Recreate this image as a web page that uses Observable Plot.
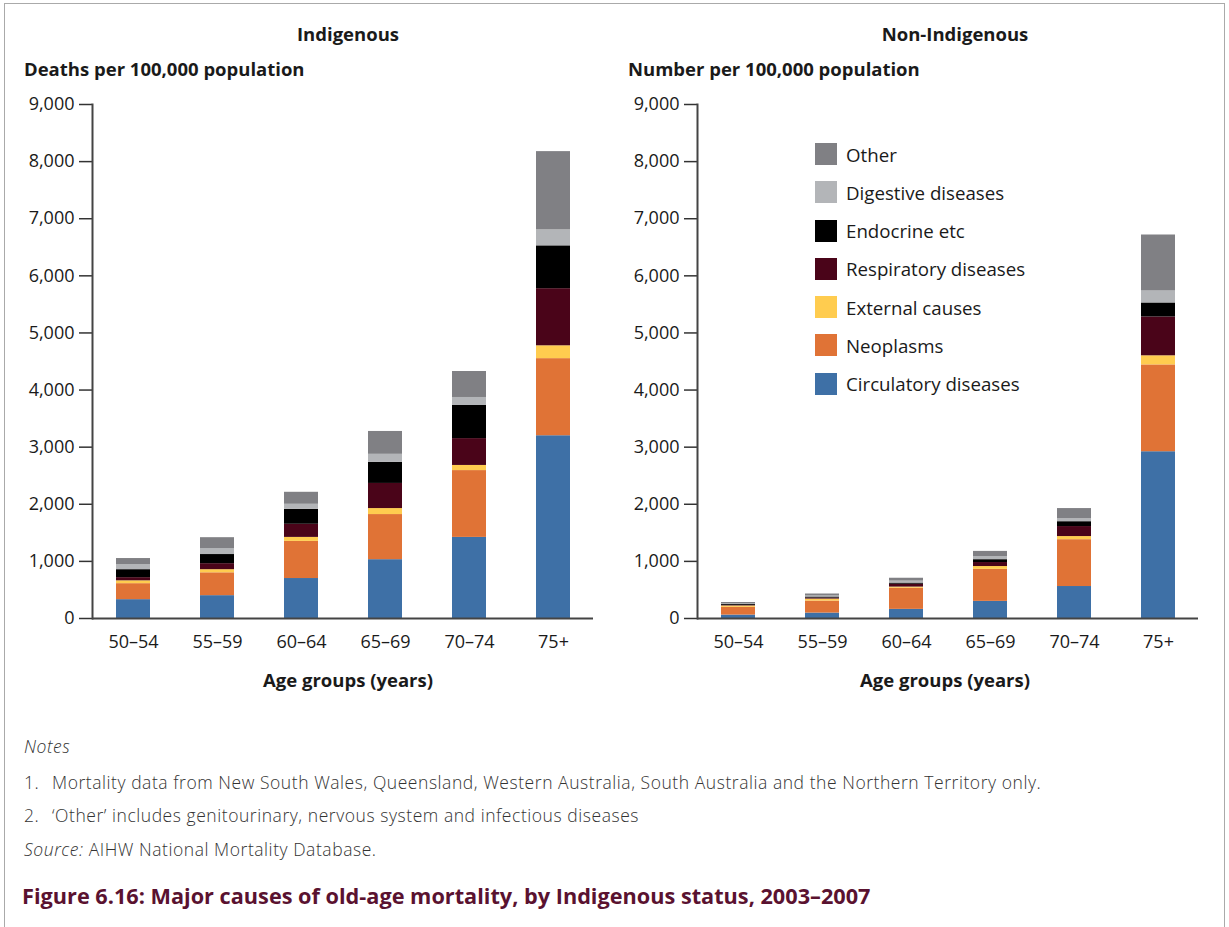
<!DOCTYPE html>
<html><head><meta charset="utf-8">
<script src="https://cdn.jsdelivr.net/npm/d3@7"></script>
<script src="https://cdn.jsdelivr.net/npm/@observablehq/plot@0.6"></script>
<style>
body{margin:0;background:#fff;font-family:"Open Sans",sans-serif;color:#1a1a1a}
#fig{position:relative;width:1229px;height:927px;overflow:hidden;background:#fff}
#frame{position:absolute;left:4px;top:3px;width:1221px;height:960px;border:1px solid #aaa;box-sizing:border-box}
.abs{position:absolute;white-space:nowrap;line-height:1}
.b{font-weight:700;font-size:18.5px}
.c{transform:translateX(-50%)}
.note{font-size:17.5px;letter-spacing:0.55px;color:#333;font-weight:300}
.chart{position:absolute;top:90px}
#legend{position:absolute;left:815px;top:143px}
.li{display:flex;align-items:center;height:22px;margin-bottom:16.3px;font-size:18.7px}
.sw{width:22px;height:22px;margin-right:9px}
#cap{font-weight:700;font-size:21.7px;color:#5a1230}
</style></head>
<body><div id="fig">
<div id="frame"></div>
<div class="abs b c" style="left:348px;top:25px">Indigenous</div>
<div class="abs b c" style="left:955px;top:25px">Non-Indigenous</div>
<div class="abs b" style="left:24px;top:60px">Deaths per 100,000 population</div>
<div class="abs b" style="left:628px;top:60px">Number per 100,000 population</div>
<div id="left" class="chart" style="left:0px"></div>
<div id="right" class="chart" style="left:605px"></div>
<div id="legend"></div>
<div class="abs b c" style="left:348px;top:671px">Age groups (years)</div>
<div class="abs b c" style="left:945px;top:671px">Age groups (years)</div>
<div class="abs note" style="left:24px;top:738px;font-style:italic">Notes</div>
<div class="abs note" style="left:24px;top:774px">1.</div>
<div class="abs note" style="left:52px;top:774px">Mortality data from New South Wales, Queensland, Western Australia, South Australia and the Northern Territory only.</div>
<div class="abs note" style="left:24px;top:807px">2.</div>
<div class="abs note" style="left:52px;top:807px">‘Other’ includes genitourinary, nervous system and infectious diseases</div>
<div class="abs note" style="left:24px;top:841px"><i>Source:</i> AIHW National Mortality Database.</div>
<div id="cap" class="abs" style="left:22px;top:885px">Figure 6.16: Major causes of old-age mortality, by Indigenous status, 2003–2007</div>
</div>
<script>
const categories = ["50–54","55–59","60–64","65–69","70–74","75+"];
const causes = ["Circulatory diseases","Neoplasms","External causes","Respiratory diseases","Endocrine etc","Digestive diseases","Other"];
const colors = ["#3e70a6","#e07336","#ffcc4f","#4a0419","#000000","#b3b5b8","#808084"];
const yTicks = [0,1000,2000,3000,4000,5000,6000,7000,8000,9000];

// Indigenous (deaths per 100,000)
const indCirculatory = [330, 400, 700, 1030, 1420, 3200];
const indNeoplasms   = [280, 400, 650, 790, 1170, 1350];
const indExternal    = [50, 55, 70, 105, 90, 225];
const indRespiratory = [55, 105, 230, 440, 470, 1000];
const indEndocrine   = [140, 160, 260, 370, 580, 750];
const indDigestive   = [90, 105, 90, 140, 140, 280];
const indOther       = [105, 190, 210, 400, 455, 1370];

// Non-Indigenous (number per 100,000)
const nonCirculatory = [60, 95, 160, 300, 560, 2920];
const nonNeoplasms   = [135, 210, 370, 560, 820, 1520];
const nonExternal    = [25, 35, 20, 50, 55, 160];
const nonRespiratory = [10, 18, 50, 70, 175, 680];
const nonEndocrine   = [15, 18, 20, 50, 85, 245];
const nonDigestive   = [10, 18, 35, 55, 55, 210];
const nonOther       = [25, 35, 50, 90, 175, 980];

const indSeries = [indCirculatory, indNeoplasms, indExternal, indRespiratory, indEndocrine, indDigestive, indOther];
const nonSeries = [nonCirculatory, nonNeoplasms, nonExternal, nonRespiratory, nonEndocrine, nonDigestive, nonOther];

function chart(series){
  const data = [];
  causes.forEach((c,i)=>categories.forEach((a,j)=>data.push({age:a, cause:c, value:series[i][j]})));
  return Plot.plot({
    width: 610, height: 610,
    marginLeft: 92, marginRight: 17, marginTop: 14, marginBottom: 82,
    style: {fontFamily: "Open Sans", fontSize: "18px", color: "#1a1a1a", background: "transparent", overflow: "visible"},
    x: {domain: categories, paddingInner: 0.6, paddingOuter: 0.27, label: null},
    y: {domain: [0, 9000], label: null},
    color: {domain: causes, range: colors},
    marks: [
      Plot.barY(data, {x: "age", y: "value", fill: "cause"}),
      Plot.axisY({ticks: yTicks, tickSize: 13, tickPadding: 5, tickFormat: d3.format(","), label: null, stroke: "#333", strokeWidth: 1.5}),
      Plot.axisX({tickSize: 0, tickPadding: 17, label: null}),
      Plot.ruleY([0], {stroke: "#444", strokeWidth: 2}),
      Plot.frame({anchor: "left", stroke: "#444", strokeWidth: 2})
    ]
  });
}
document.getElementById("left").append(chart(indSeries));
document.getElementById("right").append(chart(nonSeries));

const leg = document.getElementById("legend");
causes.slice().reverse().forEach(c=>{
  const row = document.createElement("div"); row.className = "li";
  const sw = document.createElement("div"); sw.className = "sw";
  sw.style.background = colors[causes.indexOf(c)];
  const t = document.createElement("span"); t.textContent = c;
  row.append(sw, t); leg.append(row);
});
</script>
</body></html>
